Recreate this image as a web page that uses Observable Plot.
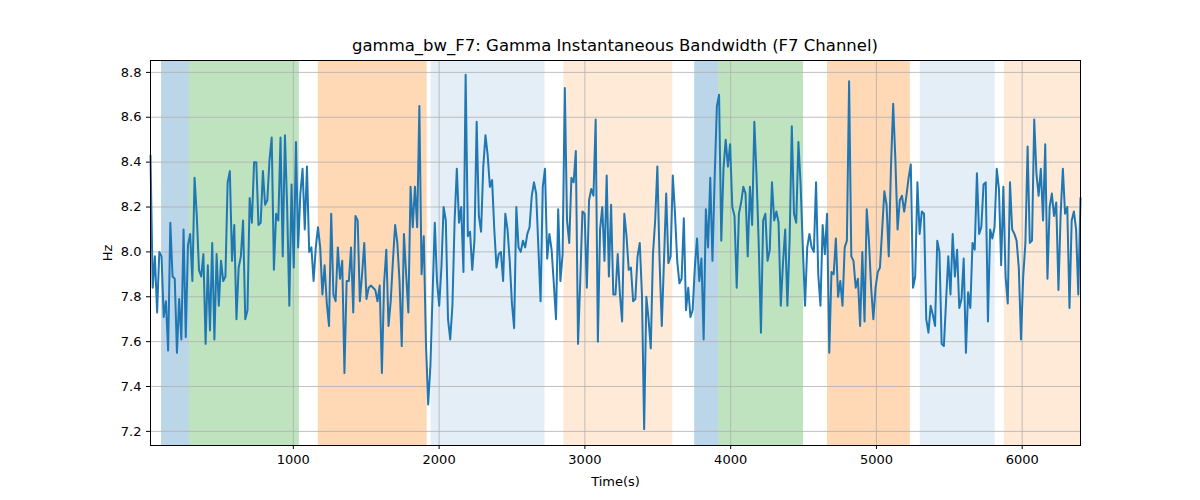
<!DOCTYPE html>
<html>
<head>
<meta charset="utf-8">
<script src="https://cdn.jsdelivr.net/npm/d3@7"></script>
<script src="https://cdn.jsdelivr.net/npm/@observablehq/plot@0.6"></script>
<style>
  body { margin: 0; background: #fff; font-family: "DejaVu Sans", sans-serif; }
  #title { height: 56px; line-height: 20px; padding-top: 36px; box-sizing: border-box; padding-left: 30px; text-align: center; font-size: 16.5px; color: #000; }
</style>
</head>
<body>
<div id="title">gamma_bw_F7: Gamma Instantaneous Bandwidth (F7 Channel)</div>
<div id="chart"></div>
<script>
// Bandwidth samples (Hz), read left to right off the picture
const bandwidth = [
  8.43,7.84,7.98,7.73,8.00,7.98,7.71,7.78,7.56,8.13,7.89,7.88,7.55,7.79,7.61,8.10,7.62,8.03,8.08,7.87,8.33,8.16,7.92,7.89,7.99,7.59,7.94,7.65,8.04,7.61,7.99,7.76,7.96,7.87,7.89,8.31,8.36,7.96,8.12,7.70,7.93,7.98,8.14,7.70,7.74,8.24,8.13,8.40,8.40,8.12,8.13,8.36,8.21,8.23,8.41,8.51,7.92,8.17,8.14,8.51,7.98,8.52,8.20,7.76,8.30,7.93,8.49,8.02,8.26,8.37,
  8.10,8.38,8.00,8.02,7.87,8.02,8.11,8.02,7.81,7.94,7.77,7.67,8.17,7.81,7.78,8.02,7.88,7.96,7.46,7.87,7.87,8.02,7.73,8.16,8.14,7.78,7.90,8.04,7.79,7.84,7.85,7.84,7.83,7.78,7.85,7.46,7.86,8.01,7.67,7.78,7.96,8.12,8.04,7.87,7.58,8.08,7.90,7.73,8.29,8.11,8.29,8.11,8.65,7.90,8.07,7.59,7.32,7.49,7.81,8.13,7.87,7.76,7.93,8.20,8.14,7.70,7.61,7.76,
  8.14,8.37,8.13,8.20,7.91,8.79,8.07,8.09,7.92,8.05,8.58,8.16,8.09,8.38,8.52,8.43,8.29,8.32,8.10,7.93,7.99,8.00,7.87,8.17,8.10,7.96,7.77,7.66,8.20,8.02,8.00,8.05,8.02,8.08,8.11,8.25,8.31,8.26,8.02,7.78,8.29,8.37,7.97,8.08,8.01,7.86,7.70,8.19,7.87,7.99,8.73,8.14,8.04,8.33,8.31,8.45,7.59,7.87,8.18,8.17,7.84,8.23,8.28,8.25,8.59,7.60,8.10,8.20,7.96,8.34,7.89,8.21,7.81,
  7.81,7.99,7.81,7.69,8.17,8.07,7.92,7.93,7.78,7.79,7.98,8.04,7.81,7.21,7.80,7.70,7.57,7.99,8.14,8.38,7.96,7.67,7.96,8.26,7.95,7.98,8.34,8.17,7.96,7.86,7.88,8.15,7.74,7.84,7.71,7.74,7.93,8.06,7.87,7.97,7.61,8.19,8.02,8.33,7.96,8.33,8.65,8.70,8.05,8.37,8.50,8.38,8.48,8.20,8.16,7.84,8.17,8.22,8.29,8.26,7.98,8.29,8.12,8.58,8.34,8.03,7.64,8.14,8.17,7.96,8.01,8.31,8.14,
  8.18,8.13,7.76,7.95,8.10,7.76,8.05,8.56,8.17,8.13,8.49,8.30,8.02,7.76,8.02,8.08,8.02,8.00,8.31,7.90,7.76,8.12,7.99,8.17,7.55,7.91,7.90,8.06,7.80,7.87,7.76,8.02,8.05,8.76,7.98,7.96,7.84,7.88,7.67,8.00,7.69,8.19,8.05,7.84,7.70,7.84,7.91,7.93,8.10,8.27,8.21,7.98,8.38,8.66,8.41,8.10,8.23,8.25,8.18,8.25,8.33,8.39,7.84,7.89,8.31,8.08,8.18,8.17,7.70,7.64,7.76,7.72,7.67,
  8.05,8.00,7.59,7.58,7.78,7.98,7.81,8.08,7.89,8.01,7.75,7.79,7.97,7.55,7.82,7.75,8.04,8.01,8.35,8.08,8.11,8.30,8.31,7.69,8.10,8.06,8.11,8.37,8.28,7.94,8.29,7.89,7.77,8.31,8.10,8.08,8.05,7.93,7.61,7.89,8.04,8.47,8.04,8.05,8.59,8.35,8.25,8.37,8.14,8.48,7.88,8.20,8.26,8.16,8.22,7.83,8.17,8.37,8.17,8.20,7.75,8.14,8.18,8.10,7.81,8.24
];
const tStart = 20;
const tEnd = 6400;

// Shaded segments
const bandStart = [96, 288, 1171, 1945, 2856, 3753, 3918, 4664, 5301, 5877];
const bandEnd   = [288, 1041, 1918, 2726, 3603, 3918, 4500, 5233, 5815, 6400];
const bandColor = ["#1f77b4", "#2ca02c", "#ff7f0e", "#1f77b4", "#ff7f0e", "#1f77b4", "#2ca02c", "#ff7f0e", "#1f77b4", "#ff7f0e"];
const bandAlpha = [0.3, 0.3, 0.3, 0.12, 0.16, 0.3, 0.3, 0.3, 0.12, 0.16];

const yTicks = [7.2, 7.4, 7.6, 7.8, 8.0, 8.2, 8.4, 8.6, 8.8];
const xTicks = [1000, 2000, 3000, 4000, 5000, 6000];

const step = (tEnd - tStart) / (bandwidth.length - 1);
const series = bandwidth.map((v, i) => ({ t: tStart + i * step, hz: v }));
const bands = bandStart.map((s, i) => ({ x1: s, x2: bandEnd[i], fill: bandColor[i], a: bandAlpha[i] }));

const plot = Plot.plot({
  width: 1200,
  height: 444,
  marginTop: 4,
  marginBottom: 55,
  marginLeft: 150,
  marginRight: 120,
  style: { fontFamily: "DejaVu Sans, sans-serif", fontSize: "13px", color: "#000" },
  x: { domain: [tStart, tEnd], ticks: xTicks, tickFormat: d3.format("d"), tickSize: 4, label: "Time(s)", labelAnchor: "center", labelArrow: "none", labelOffset: 40 },
  y: { domain: [7.137, 8.853], ticks: yTicks, tickFormat: d3.format(".1f"), tickSize: 4, label: "Hz", labelAnchor: "center", labelArrow: "none", labelOffset: 48 },
  marks: [
    Plot.rectX(bands, { x1: "x1", x2: "x2", y1: 7.137, y2: 8.853, fill: d => d.fill, fillOpacity: d => d.a }),
    Plot.gridX(xTicks, { stroke: "#b0b0b0", strokeOpacity: 1, strokeWidth: 0.8 }),
    Plot.gridY(yTicks, { stroke: "#b0b0b0", strokeOpacity: 1, strokeWidth: 0.8 }),
    Plot.lineY(series, { x: "t", y: "hz", stroke: "#1f77b4", strokeWidth: 2 }),
    Plot.frame({ stroke: "#000", strokeWidth: 1 })
  ]
});

d3.select("#chart").append(() => plot);
</script>
</body>
</html>
